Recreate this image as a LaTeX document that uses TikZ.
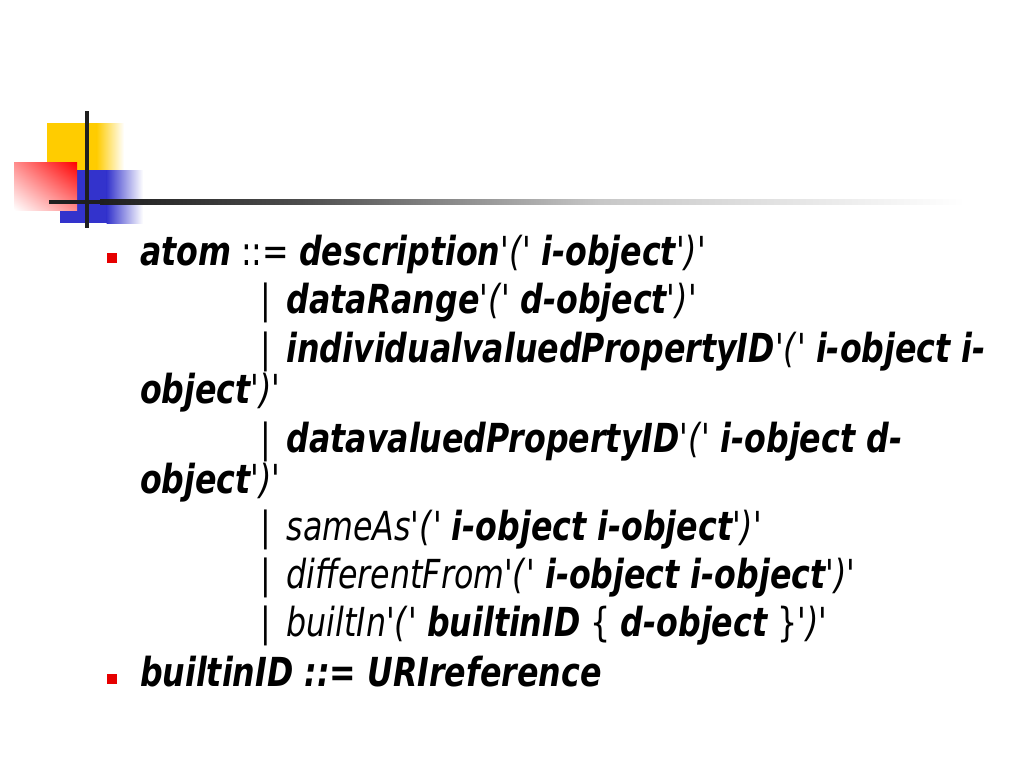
\documentclass[tikz,border=0pt]{standalone}
\usepackage{fontspec}
\usetikzlibrary{shadings}
\setmainfont{DejaVu Sans Condensed}[Ligatures=TeXOff]
\definecolor{yel}{RGB}{255,204,0}
\definecolor{blu}{RGB}{51,51,204}
\definecolor{bul}{RGB}{230,0,0}
\newcommand{\kwb}[1]{{\bfseries\itshape #1}}
\newcommand{\kwi}[1]{{\itshape #1}}
\newcommand{\lpq}{'\textit{(}'}
\newcommand{\rpq}{'\textit{)}'}
\newcommand{\altbar}{|\hspace{0.45em}}
\newcommand{\sq}[1]{\scalebox{0.88}[1]{#1}}
\begin{document}
\begin{tikzpicture}[x=0.75pt,y=-0.75pt,
  line/.style={anchor=base west,inner sep=0pt,outer sep=0pt,font=\fontsize{30}{36}\selectfont},
  bullet/.style={fill=bul,draw=none}]
\useasboundingbox (0,0) rectangle (1024,768);
% decoration
\fill[yel] (47,123) rectangle (97,190);
\shade[left color=yel,right color=white] (96.5,123) rectangle (124,190);
\fill[blu] (60,170) rectangle (107,223);
\shade[left color=blu,right color=white] (106.5,170) rectangle (143,223);
\shade[upper right=red,upper left=red!45!white,lower right=red!45!white,lower left=white] (14,162) rectangle (77,210);
\fill[black!88] (85.3,111) rectangle (88.7,228);
\fill[black!88] (49,199.5) rectangle (100.5,204);
\shade[left color=black!88,right color=black!70] (100,199.5) rectangle (300.5,204);
\shade[left color=black!70,right color=black!22] (300,199.5) rectangle (600.5,204);
\shade[left color=black!22,right color=white] (600,199.5) rectangle (965,204);
% bullets
\fill[bullet] (107,253) rectangle (117,263);
\fill[bullet] (107,674) rectangle (117,684);
% text
\node[line] (l1) at (140,265) {\sq{\kwb{atom} ::= \kwb{description}\lpq{} \kwb{i-object}\rpq}};
\node[line] (l2) at (260,313) {\sq{\altbar\kwb{dataRange}\lpq{} \kwb{d-object}\rpq}};
\node[line] (l3) at (260,362) {\sq{\altbar\kwb{individualvaluedPropertyID}\lpq{} \kwb{i-object i-}}};
\node[line] (l4) at (140,403) {\sq{\kwb{object}\rpq}};
\node[line] (l5) at (260,452) {\sq{\altbar\kwb{datavaluedPropertyID}\lpq{} \kwb{i-object d-}}};
\node[line] (l6) at (140,493) {\sq{\kwb{object}\rpq}};
\node[line] (l7) at (260,540) {\sq{\altbar\kwi{sameAs}\lpq{} \kwb{i-object i-object}\rpq}};
\node[line] (l8) at (260,588) {\sq{\altbar\kwi{differentFrom}\lpq{} \kwb{i-object i-object}\rpq}};
\node[line] (l9) at (260,636) {\sq{\altbar\kwi{builtIn}\lpq{} \kwb{builtinID} \{ \kwb{d-object} \}\rpq}};
\node[line] (l10) at (140,686) {\sq{\kwb{builtinID ::= URIreference}}};
\end{tikzpicture}
\end{document}
